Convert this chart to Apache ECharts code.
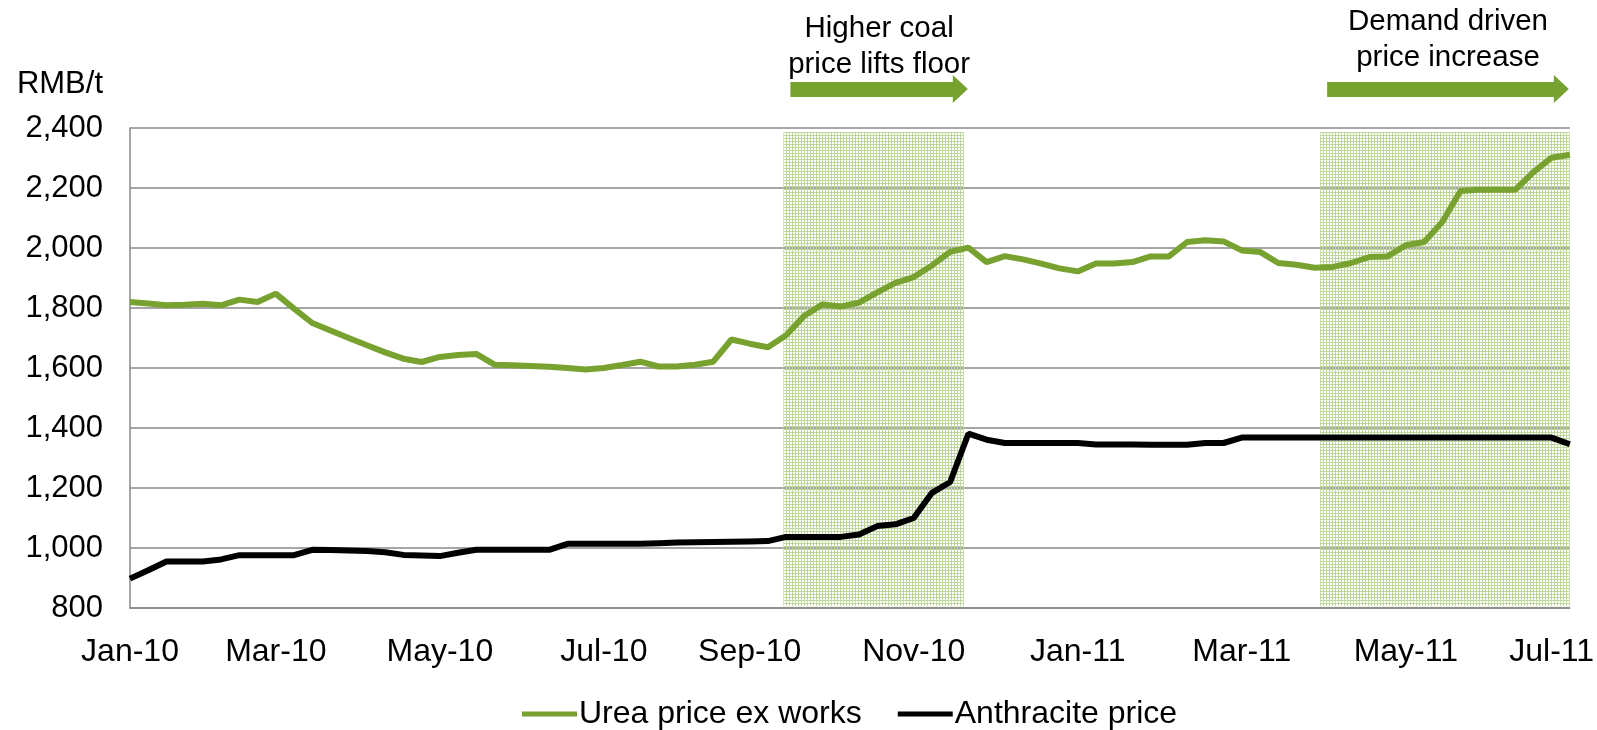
<!DOCTYPE html>
<html>
<head>
<meta charset="utf-8">
<script src="https://cdn.jsdelivr.net/npm/echarts@6/dist/echarts.min.js"></script>
<style>
  html, body { margin: 0; background: #fff; }
  #grafico { width: 1597px; height: 730px; }
</style>
</head>
<body>
<div id="grafico"></div>
<script>
// Urea ex works vs anthracite, weekly, RMB/t (Jan-10 .. Jul-11)
const ureia = [
  1820, 1815, 1809, 1811, 1814, 1809, 1828, 1820, 1848, 1798,
  1750, 1725, 1700, 1676, 1652, 1631, 1620, 1637, 1643, 1647,
  1611, 1609, 1607, 1604, 1600, 1595, 1600, 1610, 1621, 1605,
  1605, 1611, 1621, 1695, 1681, 1669, 1709, 1774, 1812, 1805,
  1818, 1852, 1884, 1903, 1942, 1987, 2001, 1953, 1973, 1962,
  1948, 1932, 1922, 1948, 1948, 1953, 1972, 1972, 2020, 2026,
  2022, 1992, 1987, 1950, 1944, 1934, 1937, 1950, 1970, 1972,
  2009, 2020, 2087, 2190, 2194, 2194, 2194, 2253, 2301, 2311,
];
const antracito = [
  898, 926, 955, 955, 955, 962, 976, 976, 976, 976,
  994, 993, 992, 990, 986, 977, 975, 973, 984, 994,
  994, 994, 994, 994, 1014, 1014, 1014, 1014, 1014, 1016,
  1018, 1019, 1020, 1021, 1022, 1023, 1037, 1037, 1037, 1037,
  1045, 1073, 1079, 1100, 1184, 1220, 1381, 1361, 1350, 1350,
  1350, 1350, 1350, 1345, 1345, 1345, 1344, 1344, 1344, 1350,
  1350, 1368, 1368, 1368, 1368, 1368, 1368, 1368, 1368, 1368,
  1368, 1368, 1368, 1368, 1368, 1368, 1368, 1368, 1368, 1346,
];
const rotulos = ["Jan-10", "Mar-10", "May-10", "Jul-10", "Sep-10", "Nov-10", "Jan-11", "Mar-11", "May-11", "Jul-11"];
const semanaDoRotulo = [0, 8, 17, 26, 34, 43, 52, 61, 70, 78];
const eixoY = { min: 800, max: 2400, passo: 200 };
// faixas sombreadas, em semanas (posição no eixo) e RMB/t
const faixas = [[35.85, 45.75], [65.3, 79]];
const faixaY = [806, 2387];
const notas = ["Higher coal\nprice lifts floor", "Demand driven\nprice increase"];
const nomes = ["Urea price ex works", "Anthracite price"];

const VERDE = "#78A22F";
const FONTE = "'Liberation Sans', Arial, sans-serif";

const categorias = ureia.map((_, i) => {
  const k = semanaDoRotulo.indexOf(i);
  return k < 0 ? "" : rotulos[k];
});

function trama() {
  const c = document.createElement("canvas");
  c.width = c.height = 3;
  const g = c.getContext("2d");
  g.fillStyle = "#bfd69d";
  g.fillRect(0, 0, 3, 1);
  g.fillRect(0, 0, 1, 3);
  return c;
}

const g = echarts.init(document.getElementById("grafico"), null, { renderer: "canvas" });

g.setOption({
  animation: false,
  textStyle: { fontFamily: FONTE },
  grid: { left: 130, right: 22, top: 128, bottom: 122 },
  legend: {
    left: 517, top: 691,
    itemWidth: 55, itemHeight: 5, itemGap: 36,
    icon: "rect",
    textStyle: { fontSize: 32, color: "#000", fontFamily: FONTE, lineHeight: 36, padding: [0, 0, 0, -3] },
    data: nomes,
  },
  xAxis: [
    {
      type: "category",
      data: categorias,
      boundaryGap: false,
      axisLine: { show: true, lineStyle: { color: "#888", width: 1.5 } },
      axisTick: { show: false },
      axisLabel: { interval: 0, color: "#000", fontSize: 32, margin: 28, fontFamily: FONTE },
      splitLine: { show: false },
    },
    { type: "value", min: 0, max: ureia.length - 1, show: false },
  ],
  yAxis: {
    type: "value",
    min: eixoY.min, max: eixoY.max, interval: eixoY.passo,
    name: "RMB/t",
    nameLocation: "end",
    nameGap: 44,
    nameTextStyle: { fontSize: 31, color: "#000", align: "right", verticalAlign: "middle", padding: [0, 27, 0, 0], fontFamily: FONTE },
    axisLine: { show: true, lineStyle: { color: "#888", width: 1.5 } },
    axisTick: { show: false },
    axisLabel: {
      color: "#000", fontSize: 31, margin: 27, fontFamily: FONTE,
      formatter: (v) => v.toLocaleString("en-US"),
    },
    splitLine: { lineStyle: { color: "#888", width: 1.5 } },
  },
  series: [
    {
      name: nomes[0], type: "line", data: ureia,
      showSymbol: false, symbol: "none",
      lineStyle: { color: VERDE, width: 6 }, itemStyle: { color: VERDE },
      z: 2,
    },
    {
      name: nomes[1], type: "line", data: antracito,
      showSymbol: false, symbol: "none",
      lineStyle: { color: "#000", width: 6 }, itemStyle: { color: "#000" },
      z: 3,
    },
    {
      type: "line", xAxisIndex: 1, data: [], silent: true, z: 6,
      markArea: {
        silent: true,
        itemStyle: { color: { image: trama(), repeat: "repeat" } },
        data: faixas.map(([a, b]) => [{ xAxis: a, yAxis: faixaY[0] }, { xAxis: b, yAxis: faixaY[1] }]),
      },
    },
  ],
});

// setas e notas acima das faixas
const notaY = [47, 40];
const limite = g.convertToPixel({ xAxisIndex: 1 }, ureia.length - 1) - 1;
const graficos = [];
faixas.forEach(([a, b], k) => {
  const x0 = g.convertToPixel({ xAxisIndex: 1 }, a) + 7;
  const x1 = Math.min(g.convertToPixel({ xAxisIndex: 1 }, b) + 4, limite);
  const xc = x1 - 15;
  graficos.push({
    type: "polygon",
    shape: { points: [[x0, 82], [xc, 82], [xc, 75], [x1, 89], [xc, 103], [xc, 97], [x0, 97]] },
    style: { fill: VERDE },
  });
  graficos.push({
    type: "text",
    x: (x0 + x1) / 2, y: notaY[k],
    style: {
      text: notas[k], fill: "#000", font: `29.5px ${FONTE}`,
      align: "center", verticalAlign: "middle", lineHeight: 36,
    },
  });
});
g.setOption({ graphic: graficos });
</script>
</body>
</html>
